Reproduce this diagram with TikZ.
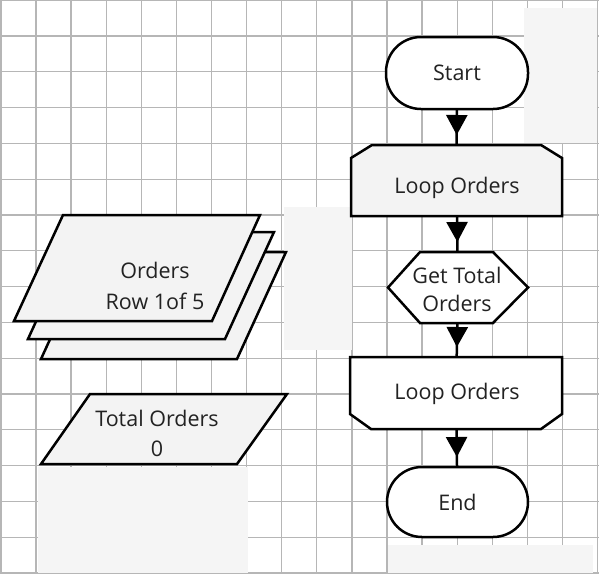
\documentclass[tikz,border=0pt]{standalone}
\usepackage{fontspec}
\setmainfont{Open Sans}
\usetikzlibrary{arrows.meta,decorations.markings}
\pgfdeclarelayer{gridlayer}
\pgfdeclarelayer{background}
\pgfsetlayers{gridlayer,background,main}
\definecolor{gridc}{RGB}{182,182,182}
\definecolor{patchc}{RGB}{245,245,245}
\definecolor{shapefill}{RGB}{243,243,243}
\definecolor{textc}{RGB}{34,34,34}
\tikzset{
  gridline/.style={draw=gridc, line width=1.3pt},
  patch/.style={fill=patchc},
  outline/.style={draw=black, line width=2.5pt, line join=miter},
  grayshape/.style={outline, fill=shapefill},
  whiteshape/.style={outline, fill=white},
  holder/.style={rectangle, draw=none, inner sep=0pt, outer sep=0pt},
  terminal/.style={rectangle, outline, fill=white, rounded corners=35pt, inner sep=0pt, outer sep=0pt,
    text=textc, font=\fontsize{21.5}{29}\selectfont},
  txt/.style={inner sep=0pt, text=textc, font=\fontsize{21.5}{29}\selectfont, align=center, anchor=base},
  conn/.style={line width=2.5pt, postaction={decorate},
    decoration={markings, mark=at position -10pt with {\arrow{Triangle[length=20pt,width=21pt]}}}}
}
\begin{document}
\begin{tikzpicture}[x=1pt,y=-1pt]
\useasboundingbox (0,0) rectangle (599,573);
\begin{pgfonlayer}{gridlayer}
  \fill[white] (0,0) rectangle (599,573);
  \foreach \i in {0,...,17} \draw[gridline] ({0.9+35.1*\i},0) -- ({0.9+35.1*\i},573);
  \foreach \j in {0,...,16} \draw[gridline] (0,{0.2+35.8*\j}) -- (599,{0.2+35.8*\j});
  \fill[patch] (524,8) rectangle (597,143);
  \fill[patch] (284,207) rectangle (352,350);
  \fill[patch] (38,467) rectangle (248,573);
  \fill[patch] (388,545) rectangle (593,573);
\end{pgfonlayer}

% flow column
\node[terminal, minimum width=142pt, minimum height=72pt] (start) at (457,73) {Start};
\node[holder, minimum width=211pt, minimum height=71pt] (loop1) at (456.5,180.5) {};
\node[holder, minimum width=140pt, minimum height=71pt] (hex) at (458,287.5) {};
\node[holder, minimum width=212pt, minimum height=72pt] (loop2) at (456,393) {};
\node[terminal, minimum width=141pt, minimum height=70pt] (end) at (457.5,502) {End};

\begin{pgfonlayer}{background}
  \draw[grayshape] ([yshift=-13pt]loop1.north west) -- ([xshift=21pt]loop1.north west)
    -- ([xshift=-21pt]loop1.north east) -- ([yshift=-13pt]loop1.north east)
    -- (loop1.south east) -- (loop1.south west) -- cycle;
  \draw[whiteshape] (hex.west) -- ([xshift=32pt]hex.north west) -- ([xshift=-35pt]hex.north east)
    -- (hex.east) -- ([xshift=-35pt]hex.south east) -- ([xshift=32pt]hex.south west) -- cycle;
  \draw[whiteshape] (loop2.north west) -- (loop2.north east) -- ([yshift=15pt]loop2.south east)
    -- ([xshift=-21pt]loop2.south east) -- ([xshift=21pt]loop2.south west)
    -- ([yshift=15pt]loop2.south west) -- cycle;
  % stacked data sheets
  \draw[grayshape] (41,359) -- (237,359) -- (286,252) -- (90,252) -- cycle;
  \draw[grayshape] (28,339) -- (225,339) -- (274,232) -- (77,232) -- cycle;
  \draw[grayshape] (14,321) -- (212,321) -- (260,215) -- (63,215) -- cycle;
  % total orders data
  \draw[grayshape] (41,464) -- (237,464) -- (287,394) -- (90,394) -- cycle;
\end{pgfonlayer}

\node[txt] (loop1t) at (457,193.3) {Loop Orders};
\node[txt, font=\fontsize{21.5}{28.4}\selectfont] (hext) at (457,311.7) {Get Total\\Orders};
\node[txt] (loop2t) at (457,399.3) {Loop Orders};
\node[txt, font=\fontsize{21.5}{31}\selectfont] (orderst) at (155,309.3) {Orders\\Row 1of 5};
\node[txt, font=\fontsize{21.5}{29.3}\selectfont] (totalt) at (157,456) {Total Orders\\0};

\draw[conn] (start) -- (loop1);
\draw[conn] (loop1) -- (hex);
\draw[conn] (hex) -- (loop2);
\draw[conn] (loop2) -- (end);
\end{tikzpicture}
\end{document}
